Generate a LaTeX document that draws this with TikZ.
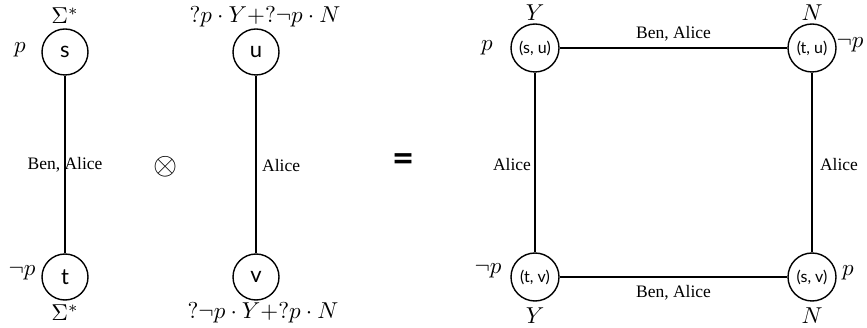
\documentclass[tikz,border=0pt]{standalone}
\usepackage{fontspec}
\newfontfamily\nodefont{Lato}
\newfontfamily\labfont{Liberation Serif}
\newcommand{\mymath}[1]{\scalebox{2.3}{$#1$}}
\begin{document}
\begin{tikzpicture}[x=1pt,y=-1pt,
  st/.style={draw,circle,line width=1.4pt,minimum size=46pt,inner sep=0pt,font=\nodefont\fontsize{22}{24}\selectfont},
  pst/.style={draw,circle,line width=1.4pt,minimum size=48pt,inner sep=0pt,font=\nodefont\fontsize{16}{18}\selectfont},
  edge/.style={line width=2.2pt},
  lab/.style={font=\labfont\fontsize{17.5}{19}\selectfont,inner sep=1pt},
  mlab/.style={inner sep=0pt}]
\useasboundingbox (0,0) rectangle (867,328);
% left factor
\node[st] (s) at (65,52) {s};
\node[st] (t) at (65,277) {t};
\node[mlab] (sS) at (65,16) {\mymath{\Sigma^*}};
\node[mlab] (sp) at (20,50) {\mymath{p}};
\node[mlab] (tp) at (22,273) {\mymath{\neg p}};
\node[mlab] (tS) at (65,313) {\mymath{\Sigma^*}};
\draw[edge] (s) -- (t);
\node[lab] (l1) at (65,165) {Ben, Alice};
% middle factor
\node[st] (u) at (256,52) {u};
\node[st] (v) at (256,277) {v};
\node[mlab] (uL) at (265,17) {\mymath{?p\cdot Y{+}?\neg p\cdot N}};
\node[mlab] (vL) at (263,313) {\mymath{?\neg p\cdot Y{+}?p\cdot N}};
\draw[edge] (u) -- (v);
\node[lab,anchor=west] (l2) at (261,166) {Alice};
% operators
\node[mlab] (otimes) at (166,167) {\scalebox{3.1}{$\otimes$}};
\node[font=\nodefont\bfseries\fontsize{38}{40}\selectfont] (eq) at (404,163) {=};
% product
\node[pst] (su) at (535,48) {(s, u)};
\node[pst] (tu) at (812,48) {(t, u)};
\node[pst] (tv) at (535,277) {(t, v)};
\node[pst] (sv) at (812,277) {(s, v)};
\node[mlab] (suY) at (535,13) {\mymath{Y}};
\node[mlab] (sup) at (487,48) {\mymath{p}};
\node[mlab] (tuN) at (812,13) {\mymath{N}};
\node[mlab] (tup) at (850,45) {\mymath{\neg p}};
\node[mlab] (tvp) at (488,271) {\mymath{\neg p}};
\node[mlab] (svp) at (848,273) {\mymath{p}};
\node[mlab] (tvY) at (535,316) {\mymath{Y}};
\node[mlab] (svN) at (812,316) {\mymath{N}};
\draw[edge] (su) -- node[lab,above=5pt] (l3) {Ben, Alice} (tu);
\draw[edge] (tv) -- node[lab,below=6pt] (l4) {Ben, Alice} (sv);
\draw[edge] (su) -- node[lab,left=2pt,yshift=-2pt] (l5) {Alice} (tv);
\draw[edge] (tu) -- node[lab,right=6pt,yshift=-2pt] (l6) {Alice} (sv);
\end{tikzpicture}
\end{document}
